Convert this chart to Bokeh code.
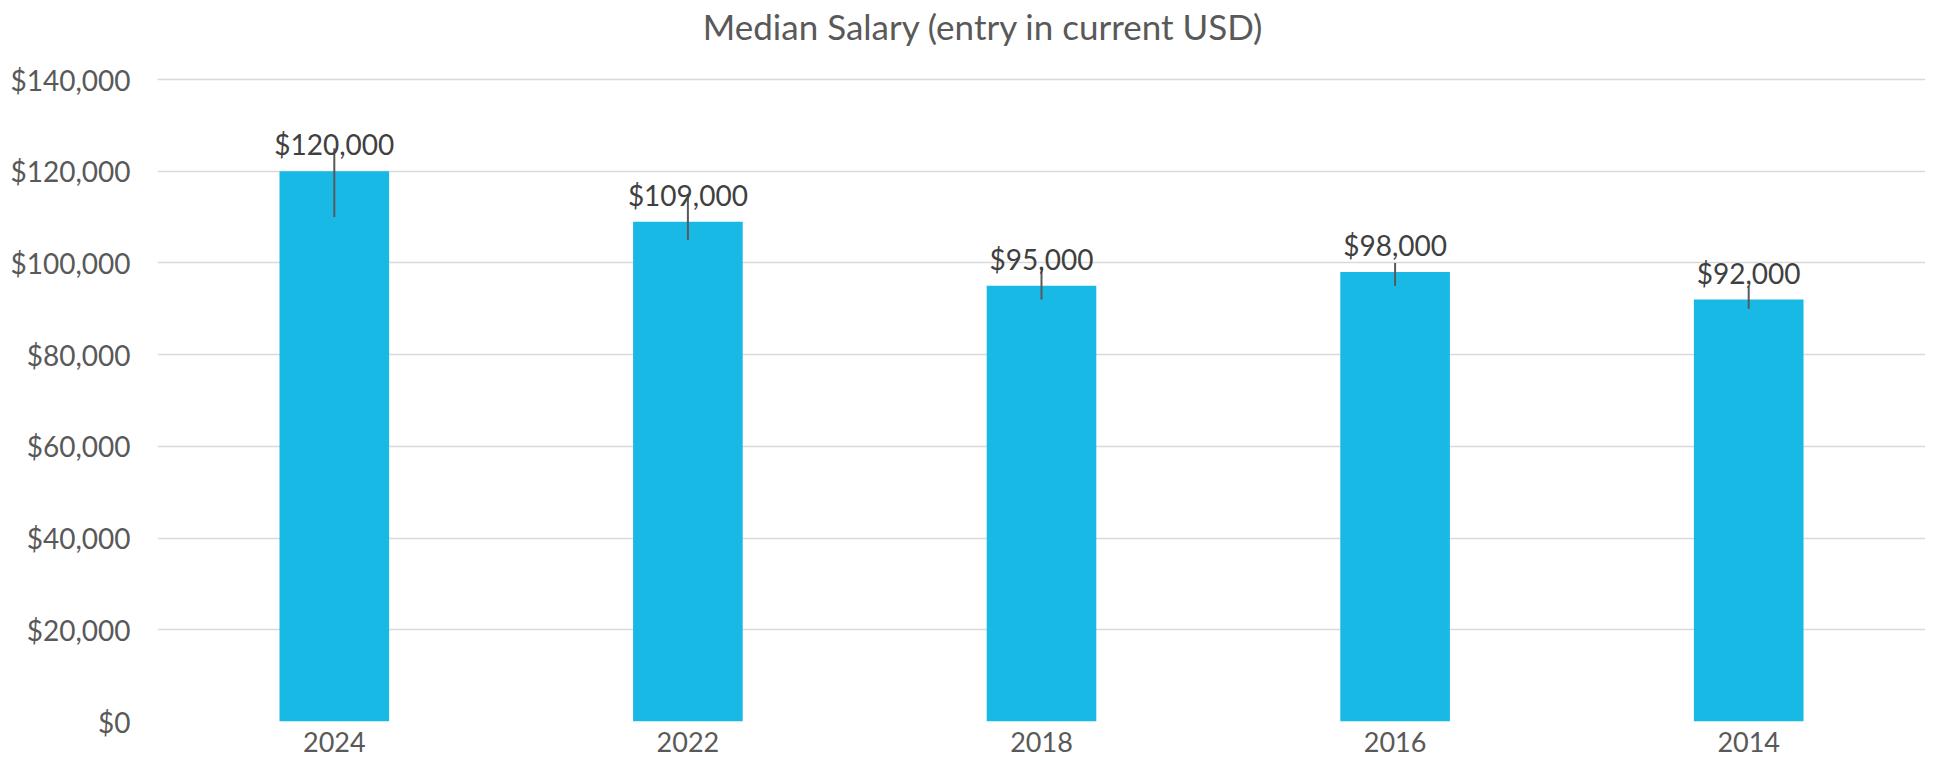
from bokeh.plotting import figure
from bokeh.models import ColumnDataSource, FactorRange, Range1d, NumeralTickFormatter, LabelSet, Label
from bokeh.core.properties import value
from bokeh.embed import file_html
from bokeh.resources import INLINE

years = ["2024", "2022", "2018", "2016", "2014"]
salary = [120000, 109000, 95000, 98000, 92000]
err_low = [110000, 105000, 92000, 95000, 90000]
err_high = [125000, 115000, 99000, 100000, 95000]
labels = ["$120,000", "$109,000", "$95,000", "$98,000", "$92,000"]
y_ticks = [0, 20000, 40000, 60000, 80000, 100000, 120000, 140000]
title_text = "Median Salary (entry in current USD)"

FONT = "Lato"
TXT = "#595959"

src = ColumnDataSource(dict(year=years, salary=salary, lo=err_low, hi=err_high, lab=labels))

# frame reaches the top of the canvas; headroom above $140,000 holds the title
p = figure(x_range=FactorRange(*years), y_range=Range1d(0, 157230),
           width=1925, height=759, output_backend="svg", toolbar_location=None,
           min_border_left=157, min_border_right=0, min_border_top=0, min_border_bottom=38)
p.outline_line_color = None

p.vbar(x="year", top="salary", width=0.31, source=src, color="#19B9E6", line_color=None)
p.segment(x0="year", y0="lo", x1="year", y1="hi", source=src, line_color="#595959", line_width=2)

ls = LabelSet(x="year", y="salary", text="lab", source=src, text_align="center",
              text_baseline="alphabetic", y_offset=16, text_font_size="28px",
              text_color="#404040", text_font=value(FONT))
p.add_layout(ls)

# chart title, centred over the whole chart (centre of the categorical range is 2.5)
title = Label(x=len(years) / 2, y=y_ticks[-1], x_offset=-58, y_offset=54, text=title_text,
              text_align="center", text_baseline="middle", text_font=FONT,
              text_font_size="35px", text_color=TXT)
p.add_layout(title)

p.yaxis.ticker = y_ticks
p.yaxis.formatter = NumeralTickFormatter(format="$0,0")
for ax in (p.xaxis[0], p.yaxis[0]):
    ax.axis_line_color = None
    ax.major_tick_line_color = None
    ax.minor_tick_line_color = None
    ax.major_label_text_font = FONT
    ax.major_label_text_font_size = "28px"
    ax.major_label_text_color = TXT
p.xaxis.major_label_text_font_size = "27px"
p.yaxis.major_label_standoff = 21
p.xaxis.major_label_standoff = 4

p.xgrid.grid_line_color = None
p.ygrid.grid_line_color = "#D9D9D9"
p.ygrid.grid_line_width = 1.5

open("out.html", "w").write(file_html(p, INLINE))
